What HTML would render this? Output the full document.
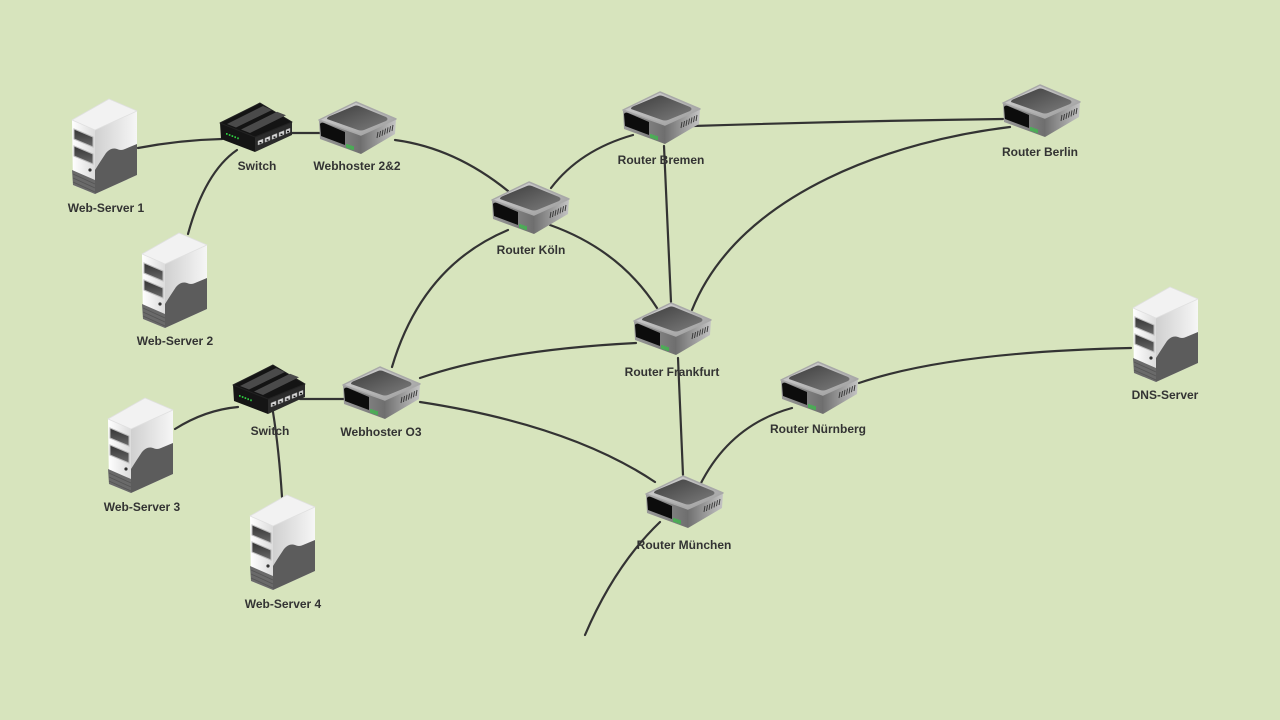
<!DOCTYPE html>
<html>
<head>
<meta charset="utf-8">
<style>
  html,body{margin:0;padding:0;background:#d7e4bd;}
  svg{display:block;}
  text{font-family:"Liberation Sans",Arial,sans-serif;font-weight:bold;font-size:12px;fill:#333;}
</style>
</head>
<body>
<svg width="1280" height="720" viewBox="0 0 1280 720" xmlns="http://www.w3.org/2000/svg">
  <defs>
    <linearGradient id="rRim" x1="0" y1="0" x2="1" y2="1">
      <stop offset="0" stop-color="#d8d8d8"/>
      <stop offset="1" stop-color="#9a9a9a"/>
    </linearGradient>
    <linearGradient id="rPanel" x1="0" y1="0" x2="1" y2="1">
      <stop offset="0" stop-color="#3e3e3e"/>
      <stop offset="1" stop-color="#7c7c7c"/>
    </linearGradient>
    <linearGradient id="rLeft" x1="0" y1="0" x2="1" y2="0">
      <stop offset="0" stop-color="#9a9a9a"/>
      <stop offset="1" stop-color="#6e6e6e"/>
    </linearGradient>
    <linearGradient id="rRight" x1="0" y1="0" x2="1" y2="0">
      <stop offset="0" stop-color="#707070"/>
      <stop offset="1" stop-color="#c4c4c4"/>
    </linearGradient>
    <linearGradient id="sFront" x1="0" y1="0" x2="1" y2="0">
      <stop offset="0" stop-color="#ffffff"/>
      <stop offset="1" stop-color="#dcdcdc"/>
    </linearGradient>
    <linearGradient id="sRight" x1="0" y1="0" x2="1" y2="0">
      <stop offset="0" stop-color="#d0d0d0"/>
      <stop offset="1" stop-color="#f6f6f6"/>
    </linearGradient>
    <linearGradient id="sBay" x1="0" y1="0" x2="0" y2="1">
      <stop offset="0" stop-color="#333"/>
      <stop offset="1" stop-color="#6a6a6a"/>
    </linearGradient>

    <!-- Router 79x54 -->
    <g id="router">
      <path d="M43,34 L78,18 L77,33 L43,53 Z" fill="url(#rRight)"/>
      <path d="M1,19 L43,34 L43,53 L2,38 Z" fill="url(#rLeft)"/>
      <path d="M1,19 L38,1 L78,18 L43,34 Z" fill="url(#rRim)" stroke="#a8a8a8" stroke-width="1.5" stroke-linejoin="round"/>
      <path d="M9,18 Q9,16 12,15 L36,5 Q38,4 41,5 L68,16 Q71,18 68,20 L46,29 Q43,30 40,29 Z" fill="url(#rPanel)"/>
      <path d="M2,23 Q3,21 6,22 L27,31 L27,44 L3,35 Z" fill="#0c0c0c"/>
      <g stroke="#2ecc40" stroke-width="1.2">
        <line x1="29" y1="43" x2="29" y2="47"/>
        <line x1="31" y1="43.7" x2="31" y2="47.7"/>
        <line x1="33" y1="44.4" x2="33" y2="48.4"/>
        <line x1="35" y1="45.1" x2="35" y2="49.1"/>
      </g>
      <g stroke="#333" stroke-width="0.9">
        <line x1="60" y1="31" x2="59" y2="37"/>
        <line x1="62.5" y1="30" x2="61.5" y2="36"/>
        <line x1="65" y1="28.8" x2="64" y2="34.8"/>
        <line x1="67.5" y1="27.6" x2="66.5" y2="33.6"/>
        <line x1="70" y1="26.4" x2="69" y2="32.4"/>
        <line x1="72.5" y1="25.2" x2="71.5" y2="31.2"/>
        <line x1="75" y1="24" x2="74" y2="30"/>
      </g>
    </g>

    <!-- Switch 73x50 -->
    <g id="switch">
      <path d="M35,35 L72,20 L72,33 L35,50 Z" fill="#2b2b2b"/>
      <path d="M0,21 L35,35 L35,50 L1,37 Z" fill="#151515"/>
      <path d="M0,21 L40,1 L72,20 L35,35 Z" fill="#141414" stroke="#222" stroke-width="1" stroke-linejoin="round"/>
      <path d="M7,22 L43,4 L52,8 L16,25.5 Z" fill="#4a4a4a"/>
      <path d="M21,27.5 L57,9.7 L66,13.2 L30,31 Z" fill="#4a4a4a"/>
      <g fill="#d8d8d8" stroke="#999" stroke-width="0.5">
        <path d="M38,39 L43,37 L43,41 L38,43 Z"/>
        <path d="M45,36.2 L50,34.2 L50,38.2 L45,40.2 Z"/>
        <path d="M52,33.4 L57,31.4 L57,35.4 L52,37.4 Z"/>
        <path d="M59,30.6 L64,28.6 L64,32.6 L59,34.6 Z"/>
        <path d="M66,27.8 L70,26.2 L70,30.2 L66,31.8 Z"/>
      </g>
      <g fill="#111">
        <rect x="39.5" y="40" width="2" height="1.5"/>
        <rect x="46.5" y="37.2" width="2" height="1.5"/>
        <rect x="53.5" y="34.4" width="2" height="1.5"/>
        <rect x="60.5" y="31.6" width="2" height="1.5"/>
        <rect x="67" y="28.8" width="2" height="1.5"/>
      </g>
      <g fill="#2ecc40">
        <rect x="6" y="31" width="1.6" height="1.8"/>
        <rect x="8.8" y="32.1" width="1.6" height="1.8"/>
        <rect x="11.6" y="33.2" width="1.6" height="1.8"/>
        <rect x="14.4" y="34.3" width="1.6" height="1.8"/>
        <rect x="17.2" y="35.4" width="1.6" height="1.8"/>
      </g>
    </g>

    <!-- Server 66x96 -->
    <g id="server">
      <path d="M23,32 L65,13 L65,77 L23,96 Z" fill="url(#sRight)"/>
      <path d="M23,72 Q28,64 34,55 Q39,49 45,51 Q49,53 53,51 L65,46 L65,77 L23,96 Z" fill="#5c5c5c"/>
      <path d="M0,22 L23,32 L23,96 L1,87 Z" fill="url(#sFront)"/>
      <path d="M0,72 L23,82 L23,96 L1,87 Z" fill="#6a6a6a"/>
      <g stroke="#555" stroke-width="0.8">
        <line x1="1" y1="76" x2="23" y2="86"/>
        <line x1="1" y1="80" x2="23" y2="90"/>
        <line x1="1" y1="84" x2="23" y2="94"/>
      </g>
      <path d="M0,22 L37,1 L65,13 L23,32 Z" fill="#f2f2f2" stroke="#e0e0e0" stroke-width="0.8" stroke-linejoin="round"/>
      <path d="M2,31 L21,39 L21,49 L2,41 Z" fill="url(#sBay)" stroke="#bbb" stroke-width="1"/>
      <path d="M2,48 L21,56 L21,66 L2,58 Z" fill="url(#sBay)" stroke="#bbb" stroke-width="1"/>
      <circle cx="18" cy="72" r="1.6" fill="#333"/>
    </g>
  </defs>

  <!-- Connectors -->
  <g fill="none" stroke="#333" stroke-width="2.2" stroke-linecap="round">
    <path d="M138,148 Q180,140 222,139"/>
    <path d="M237,150 Q205,172 188,234"/>
    <path d="M290,133 L320,133"/>
    <path d="M395,140 Q455,148 508,191"/>
    <path d="M551,188 Q580,150 633,135"/>
    <path d="M693,126 Q850,121 1003,119"/>
    <path d="M664,146 L671,302"/>
    <path d="M550,225 Q620,250 657,308"/>
    <path d="M1010,127 C900,140 740,190 692,310"/>
    <path d="M508,230 Q422,266 392,367"/>
    <path d="M420,378 Q500,350 636,343"/>
    <path d="M300,399 L345,399"/>
    <path d="M175,429 Q205,410 238,407"/>
    <path d="M273,412 Q279,450 282,497"/>
    <path d="M420,402 Q570,425 655,482"/>
    <path d="M678,358 L683,475"/>
    <path d="M700,485 Q730,425 792,408"/>
    <path d="M859,383 Q950,352 1131,348"/>
    <path d="M660,522 Q615,565 585,635"/>
  </g>

  <!-- Routers -->
  <use href="#router" transform="translate(318,101)"/>
  <use href="#router" transform="translate(491,181)"/>
  <use href="#router" transform="translate(622,91)"/>
  <use href="#router" transform="translate(1002,84)"/>
  <use href="#router" transform="translate(633,302)"/>
  <use href="#router" transform="translate(342,366)"/>
  <use href="#router" transform="translate(780,361)"/>
  <use href="#router" transform="translate(645,475)"/>

  <!-- Switches -->
  <use href="#switch" transform="translate(220,102)"/>
  <use href="#switch" transform="translate(233,364)"/>

  <!-- Servers -->
  <use href="#server" transform="translate(72,98)"/>
  <use href="#server" transform="translate(142,232)"/>
  <use href="#server" transform="translate(108,397)"/>
  <use href="#server" transform="translate(250,494)"/>
  <use href="#server" transform="translate(1133,286)"/>

  <!-- Labels -->
  <g text-anchor="middle">
    <text x="106" y="212">Web-Server 1</text>
    <text x="175" y="345">Web-Server 2</text>
    <text x="142" y="511">Web-Server 3</text>
    <text x="283" y="608">Web-Server 4</text>
    <text x="1165" y="399">DNS-Server</text>
    <text x="257" y="170">Switch</text>
    <text x="270" y="435">Switch</text>
    <text x="357" y="170">Webhoster 2&amp;2</text>
    <text x="381" y="436">Webhoster O3</text>
    <text x="531" y="254">Router Köln</text>
    <text x="661" y="164">Router Bremen</text>
    <text x="1040" y="156">Router Berlin</text>
    <text x="672" y="376">Router Frankfurt</text>
    <text x="818" y="433">Router Nürnberg</text>
    <text x="684" y="549">Router München</text>
  </g>
</svg>
</body>
</html>
